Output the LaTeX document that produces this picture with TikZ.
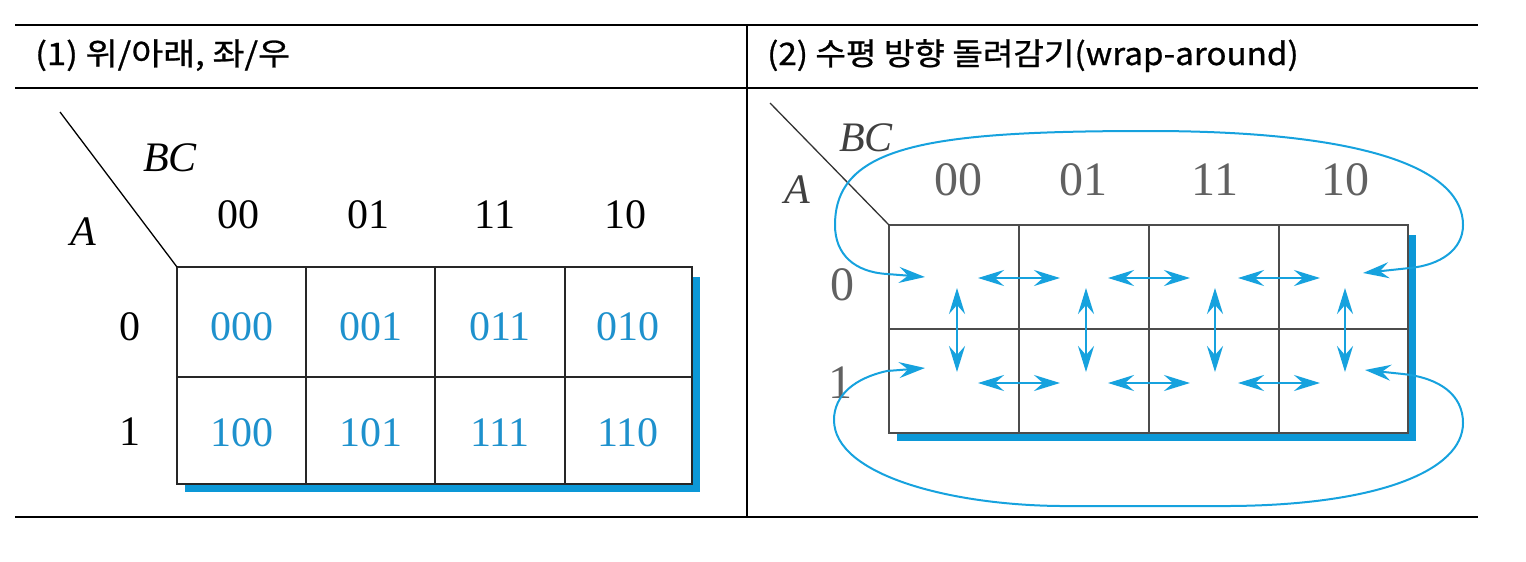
\documentclass[tikz,border=0pt]{standalone}
\usepackage{graphicx}
\usepackage{fontspec}
\setmainfont{Liberation Serif}
\newfontfamily\kr[FakeBold=0.8]{Noto Sans CJK KR}
\usetikzlibrary{arrows.meta}
\definecolor{kblue}{RGB}{22,162,222}
\definecolor{kshadow}{RGB}{12,152,215}
\definecolor{tblue}{RGB}{30,145,205}
\tikzset{kmtip/.tip={Stealth[length=26pt,width=16pt,inset=9pt]}}
\begin{document}
\begin{tikzpicture}[x=1pt,y=-1pt,
  rule/.style={line width=1.6pt, black},
  gridline/.style={line width=1.8pt, draw=black!85},
  num/.style={font=\fontsize{42}{48}\selectfont, inner sep=0pt},
  val/.style={num, text=tblue},
  ital/.style={inner sep=0pt, font=\fontsize{42}{48}\selectfont\itshape},
  gnum/.style={inner sep=0pt, font=\fontsize{48}{54}\selectfont, text=black!62},
  gital/.style={ital, text=black!75},
  hdr/.style={anchor=base west, inner sep=0pt, font=\kr\fontsize{31}{36}\selectfont},
  darr/.style={draw=kblue, line width=2.5pt, arrows={kmtip-kmtip}},
  wraparr/.style={draw=kblue, line width=2pt, arrows={kmtip-kmtip}},
]
\useasboundingbox (0,0) rectangle (1526,562);
% table rules
\draw[rule] (15,25) -- (1478,25);
\draw[rule] (15,88) -- (1478,88);
\draw[rule] (15,517) -- (1478,517);
\draw[rule] (747,25) -- (747,517);
\node[hdr] (h1) at (35,65) {\scalebox{1.12}[1]{(1) 위/아래, 좌/우}};
\node[hdr] (h2) at (767,65) {\scalebox{1.07}[1]{(2) 수평 방향 돌려감기(wrap-around)}};

% ---------- left K-map ----------
\fill[kshadow] (185,277) rectangle (700,492);
\filldraw[gridline, fill=white] (177,267) rectangle (692,484);
\draw[gridline] (177,377) -- (692,377);
\foreach \x in {306,435,565} \draw[gridline] (\x,267) -- (\x,484);
\draw[line width=1.3pt] (60,112) -- (177,267);
\node[ital] (lbc) at (170,158) {BC};
\node[ital] (la) at (83,232) {A};
\node[num] (lc1) at (238,215) {00};
\node[num] (lc2) at (368,215) {01};
\node[num] (lc3) at (495,215) {11};
\node[num] (lc4) at (625,215) {10};
\node[num] (lr0) at (130,327) {0};
\node[num] (lr1) at (130,432) {1};
\node[val] (l000) at (242,327) {000};
\node[val] (l001) at (371,327) {001};
\node[val] (l011) at (500,327) {011};
\node[val] (l010) at (628,327) {010};
\node[val] (l100) at (242,433) {100};
\node[val] (l101) at (371,433) {101};
\node[val] (l111) at (500,433) {111};
\node[val] (l110) at (628,433) {110};

% ---------- right K-map ----------
\fill[kshadow] (897,235) rectangle (1416,441);
\filldraw[gridline, fill=white, draw=black!70] (889,225) rectangle (1408,433);
\draw[gridline, draw=black!70] (889,329) -- (1408,329);
\foreach \x in {1019,1149,1279} \draw[gridline, draw=black!70] (\x,225) -- (\x,433);
\draw[line width=1.3pt, black!80] (770,103) -- (889,225);
\node[gital] (rbc) at (866,138) {BC};
\node[gital] (ra) at (797,190) {A};
\node[gnum] (rc1) at (958,180) {00};
\node[gnum] (rc2) at (1083,180) {01};
\node[gnum] (rc3) at (1215,180) {11};
\node[gnum] (rc4) at (1345,180) {10};
\node[gnum] (rr0) at (842,285) {0};
\node[gnum] (rr1) at (840,383) {1};

% horizontal double arrows
\foreach \c/\n in {1019/a,1149/b,1279/c}{
  \coordinate (t\n l) at (\c-41,278);
  \coordinate (t\n r) at (\c+41,278);
  \coordinate (b\n l) at (\c-41,383);
  \coordinate (b\n r) at (\c+41,383);
  \draw[darr] (t\n l) -- (t\n r);
  \draw[darr] (b\n l) -- (b\n r);
}
% vertical double arrows
\foreach \c/\n in {957/a,1086/b,1215/c,1345/d}{
  \coordinate (v\n t) at (\c,288);
  \coordinate (v\n b) at (\c,372);
  \draw[darr] (v\n t) -- (v\n b);
}
% wrap-around curves
\coordinate (wtl) at (925,277);
\coordinate (wtr) at (1363,273);
\coordinate (wbl) at (925,368);
\coordinate (wbr) at (1365,370);
\draw[wraparr] (wtr) -- (1410,268) .. controls (1440,265) and (1463,250) .. (1463,225)
  .. controls (1463,170) and (1370,131) .. (1149,131)
  .. controls (930,131) and (835,145) .. (835,225)
  .. controls (835,255) and (855,272) .. (887,274) -- (wtl);
\draw[wraparr] (wbl) -- (887,371) .. controls (855,378) and (834,395) .. (834,420)
  .. controls (834,475) and (950,505) .. (1060,506) -- (1230,506)
  .. controls (1380,505) and (1463,470) .. (1463,423)
  .. controls (1463,395) and (1440,378) .. (1403,374) -- (wbr);
\end{tikzpicture}
\end{document}
